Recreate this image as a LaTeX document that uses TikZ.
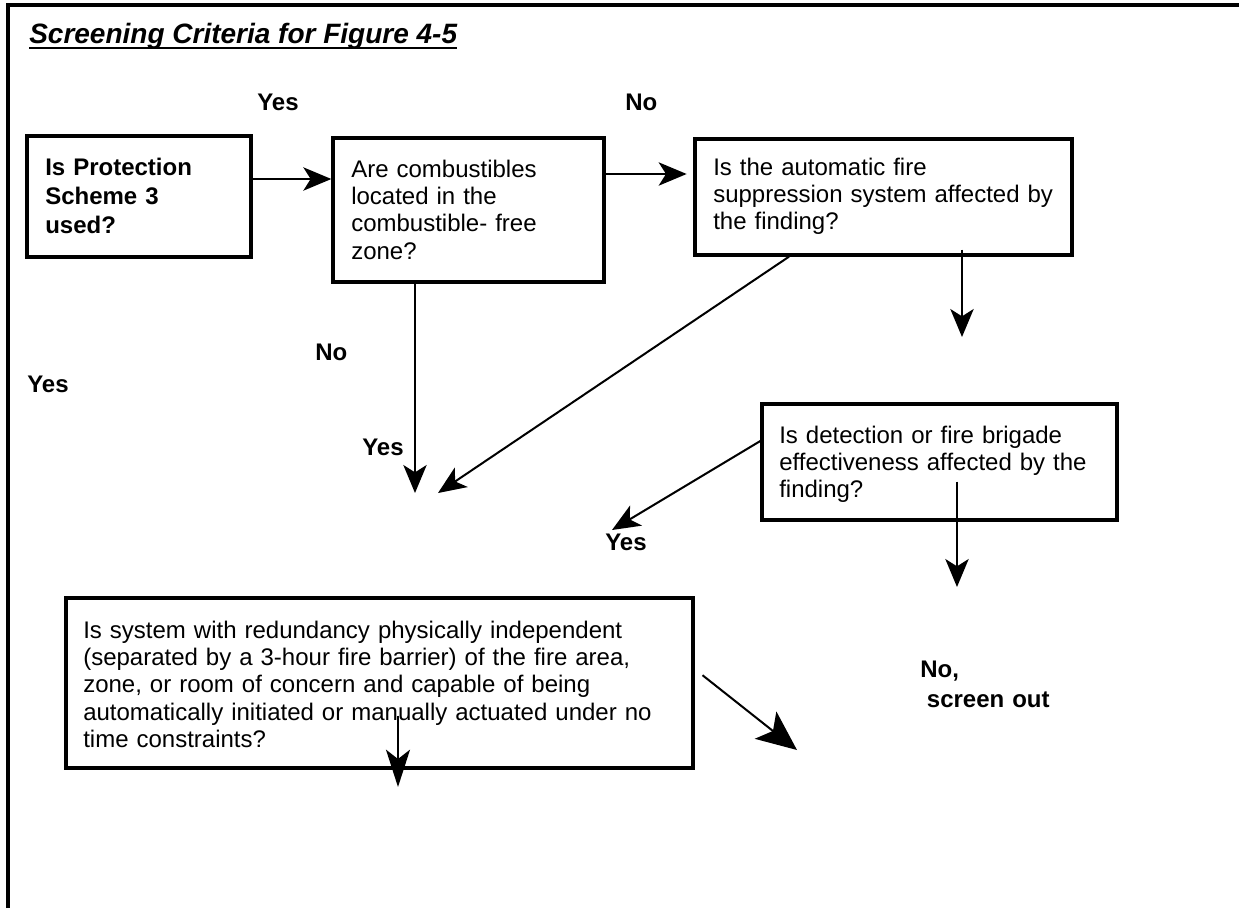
\documentclass[tikz,border=0pt]{standalone}
\usepackage{fontspec}
\setmainfont{Liberation Sans}
\usetikzlibrary{arrows.meta,calc}
\begin{document}
\begin{tikzpicture}[x=0.75pt,y=-0.75pt,
  box/.style={draw, line width=2.5pt, rectangle, inner sep=0pt},
  txt/.style={anchor=base west, inner sep=0pt, align=left, text width=460pt,
              font=\fontsize{18}{20.6}\selectfont},
  boldtxt/.style={txt, font=\fontsize{18}{21.75}\selectfont\bfseries},
  lbl/.style={anchor=base west, inner sep=0pt, align=left, text width=120pt,
              font=\fontsize{18}{22.5}\selectfont\bfseries},
  conn/.style={line width=1.5pt, -{Stealth[length=21pt,width=17.5pt,inset=5.5pt]}},
  longconn/.style={line width=1.5pt, -{Stealth[length=28pt,width=18pt,inset=7pt]}},
  bigconn/.style={line width=1.5pt, -{Stealth[length=30pt,width=26pt,inset=7pt]}}]

\useasboundingbox (0,0) rectangle (1239,911);

% outer frame (left and top edges only)
\draw[line width=3pt] (8,908) -- (8,5) -- (1240,5);

% title
\node[anchor=base west, inner sep=0pt, font=\fontsize{21}{24}\selectfont\bfseries\itshape]
  (title) at (29,43) {Screening Criteria for Figure 4-5};
\draw[line width=1.5pt] ([yshift=-3.75pt]title.base west) -- ([yshift=-3.75pt]title.base east);

% question boxes
\node[box, minimum width=168pt,    minimum height=90.75pt] (b1) at (139,196.5) {};
\node[box, minimum width=203.25pt, minimum height=108pt]   (b2) at (468.5,210) {};
\node[box, minimum width=282.75pt, minimum height=87pt]    (b3) at (883.5,197) {};
\node[box, minimum width=266.25pt, minimum height=87pt]    (b4) at (939.5,462) {};
\node[box, minimum width=470.25pt, minimum height=127.5pt] (b5) at (379.5,683) {};

% box texts
\node[boldtxt] (t1) at (45,175) {Is Protection\\Scheme 3\\used?};
\node[txt] (t2) at (351,177) {Are combustibles\\located in the\\combustible- free\\zone?};
\node[txt] (t3) at (713,175) {Is the automatic fire\\suppression system affected by\\the finding?};
\node[txt] (t4) at (779,443) {Is detection or fire brigade\\effectiveness affected by the\\finding?};
\node[txt] (t5) at (83,638) {Is system with redundancy physically independent\\(separated by a 3-hour fire barrier) of the fire area,\\zone, or room of concern and capable of being\\automatically initiated or manually actuated under no\\time constraints?};

% branch labels
\node[lbl] (yes1) at (257,110) {Yes};
\node[lbl] (no1)  at (625,110) {No};
\node[lbl] (no2)  at (315,360) {No};
\node[lbl] (yes2) at (27,392)  {Yes};
\node[lbl] (yes3) at (362,455) {Yes};
\node[lbl] (yes4) at (605,550) {Yes};
\node[lbl] (noout) at (920,677) {No,\\\hspace*{0.278em}screen out};

% free arrow ends
\coordinate (p1) at (415,493);
\coordinate (p2) at (438,493);
\coordinate (p3) at (962,337);
\coordinate (p4) at (612,530);
\coordinate (p5) at (957,587);
\coordinate (p6) at (398,787);
\coordinate (p7) at (797,750);

% arrows that start inside their boxes
\coordinate (s3) at ($(b3.south -| p3)+(0,-7)$);
\coordinate (s5) at ($(b4.south -| p5)+(0,-40)$);
\coordinate (s6) at ($(b5.south -| p6)+(0,-54)$);

% connectors
\draw[conn] (b1.east |- 0,179) -- (b2.west |- 0,179);
\draw[conn, shorten >=5pt] (b2.east |- 0,174) -- (b3.west |- 0,174);
\draw[conn] (b2.south -| p1) -- (p1);
\draw[conn] (b3.south -| 789,0) -- (p2);
\draw[conn] (s3) -- (p3);
\draw[conn] (b4.west |- 0,441) -- (p4);
\draw[conn] (s5) -- (p5);
\draw[longconn] (s6) -- (p6);
\draw[bigconn, shorten <=7.5pt] (b5.east |- 0,669) -- (p7);
\end{tikzpicture}
\end{document}
